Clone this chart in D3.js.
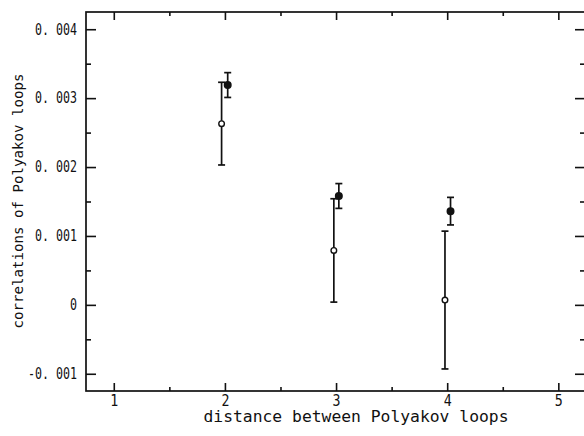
<!DOCTYPE html>
<html>
<head>
<meta charset="utf-8">
<script src="https://cdn.jsdelivr.net/npm/d3@7"></script>
<style>
  body { margin: 0; background: #fff; }
  svg { display: block; }
  text { font-family: "DejaVu Sans Mono", monospace; fill: #111; }
</style>
</head>
<body>
<svg id="chart" width="584" height="436"></svg>
<script>
// values
const openX = [1.97, 2.98, 3.98];
const openY = [0.00263, 0.00079, 0.00007];
const openErr = [0.0006, 0.00075, 0.001];

const filledX = [2.025, 3.025, 4.03];
const filledY = [0.00319, 0.00158, 0.00136];
const filledErr = [0.00018, 0.00018, 0.0002];

const xTicks = [1, 2, 3, 4, 5];
const xMinor = [1.5, 2.5, 3.5, 4.5];
const yTicks = [-0.001, 0, 0.001, 0.002, 0.003, 0.004];
const yTickLabels = ["-0. 001", "0", "0. 001", "0. 002", "0. 003", "0. 004"];
const yMinor = [-0.0005, 0.0005, 0.0015, 0.0025, 0.0035];

const svg = d3.select("#chart");
const plotLeft = 86, plotRight = 585, plotTop = 12, plotBottom = 391;

const x = d3.scaleLinear().domain([0.75, 5.24]).range([plotLeft, plotRight]);
const y = d3.scaleLinear().domain([-0.00125, 0.00425]).range([plotBottom, plotTop]);

// frame
svg.append("rect")
  .attr("x", plotLeft).attr("y", plotTop)
  .attr("width", plotRight - plotLeft).attr("height", plotBottom - plotTop)
  .attr("fill", "none").attr("stroke", "#111").attr("stroke-width", 1.7);

function styleAxis(g) {
  g.select(".domain").remove();
  g.selectAll(".tick line").attr("stroke", "#111").attr("stroke-width", 1.6);
}

// bottom axis, ticks pointing in
svg.append("g").attr("transform", `translate(0,${plotBottom})`)
  .call(d3.axisBottom(x).tickValues(xTicks).tickSize(-8).tickPadding(4).tickFormat(d3.format("d")))
  .call(styleAxis)
  .call(g => g.selectAll("text").attr("font-size", 15).attr("fill", "#111")
    .attr("textLength", 8).attr("lengthAdjust", "spacingAndGlyphs"));
svg.append("g").attr("transform", `translate(0,${plotBottom})`)
  .call(d3.axisBottom(x).tickValues(xMinor).tickSize(-4).tickFormat(""))
  .call(styleAxis);

// top axis
svg.append("g").attr("transform", `translate(0,${plotTop})`)
  .call(d3.axisTop(x).tickValues(xTicks).tickSize(-8).tickFormat(""))
  .call(styleAxis);
svg.append("g").attr("transform", `translate(0,${plotTop})`)
  .call(d3.axisTop(x).tickValues(xMinor).tickSize(-4).tickFormat(""))
  .call(styleAxis);

// left axis
svg.append("g").attr("transform", `translate(${plotLeft},0)`)
  .call(d3.axisLeft(y).tickValues(yTicks).tickSize(-10).tickPadding(9)
    .tickFormat((d, i) => yTickLabels[i]))
  .call(styleAxis)
  .call(g => g.selectAll("text")
    .attr("font-size", 15).attr("fill", "#111")
    .each(function(d, i) {
      const t = yTickLabels[i];
      d3.select(this).attr("textLength", t.length * 7).attr("lengthAdjust", "spacingAndGlyphs");
    }));
svg.append("g").attr("transform", `translate(${plotLeft},0)`)
  .call(d3.axisLeft(y).tickValues(yMinor).tickSize(-5).tickFormat(""))
  .call(styleAxis);

// right axis
svg.append("g").attr("transform", `translate(${plotRight},0)`)
  .call(d3.axisRight(y).tickValues(yTicks).tickSize(-10).tickFormat(""))
  .call(styleAxis);
svg.append("g").attr("transform", `translate(${plotRight},0)`)
  .call(d3.axisRight(y).tickValues(yMinor).tickSize(-5).tickFormat(""))
  .call(styleAxis);

// axis titles
svg.append("text")
  .attr("x", 356).attr("y", 422)
  .attr("text-anchor", "middle")
  .attr("font-size", 15)
  .attr("textLength", 305).attr("lengthAdjust", "spacingAndGlyphs")
  .text("distance between Polyakov loops");

svg.append("text")
  .attr("transform", "translate(23,201) rotate(-90)")
  .attr("text-anchor", "middle")
  .attr("font-size", 14)
  .attr("textLength", 255).attr("lengthAdjust", "spacingAndGlyphs")
  .text("correlations of Polyakov loops");

// error bars + markers
function drawSeries(xs, ys, errs, filled) {
  const g = svg.append("g");
  const pts = xs.map((d, i) => ({ x: d, y: ys[i], e: errs[i] }));
  const cap = 3.5;
  g.selectAll(".bar").data(pts).enter().append("line")
    .attr("x1", d => x(d.x)).attr("x2", d => x(d.x))
    .attr("y1", d => y(d.y - d.e)).attr("y2", d => y(d.y + d.e))
    .attr("stroke", "#111").attr("stroke-width", 1.7);
  g.selectAll(".capTop").data(pts).enter().append("line")
    .attr("x1", d => x(d.x) - cap).attr("x2", d => x(d.x) + cap)
    .attr("y1", d => y(d.y + d.e)).attr("y2", d => y(d.y + d.e))
    .attr("stroke", "#111").attr("stroke-width", 1.7);
  g.selectAll(".capBot").data(pts).enter().append("line")
    .attr("x1", d => x(d.x) - cap).attr("x2", d => x(d.x) + cap)
    .attr("y1", d => y(d.y - d.e)).attr("y2", d => y(d.y - d.e))
    .attr("stroke", "#111").attr("stroke-width", 1.7);
  g.selectAll("circle").data(pts).enter().append("circle")
    .attr("cx", d => x(d.x)).attr("cy", d => y(d.y))
    .attr("r", filled ? 3.3 : 2.8)
    .attr("fill", filled ? "#111" : "#fff")
    .attr("stroke", "#111").attr("stroke-width", 1.4);
}

drawSeries(openX, openY, openErr, false);
drawSeries(filledX, filledY, filledErr, true);
</script>
</body>
</html>
